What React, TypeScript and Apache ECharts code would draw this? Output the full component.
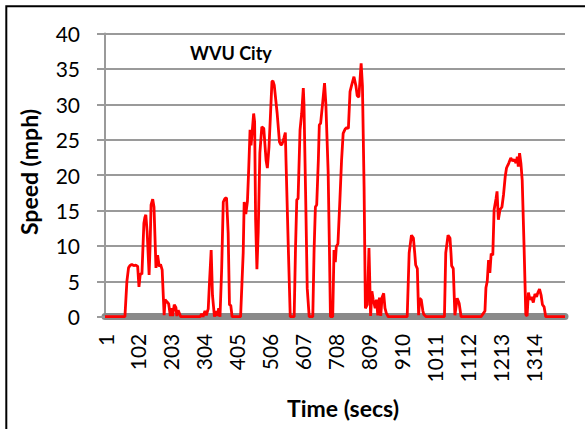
import React, { useEffect, useRef } from "react";
import * as echarts from "echarts";

// Time (seconds index, label = index + 1) and speed (mph) keypoints
const times: number[] = [
  0, 61, 67, 72, 76, 82, 88, 94, 100, 104, 108, 113, 119, 122, 125, 129, 135, 138, 141, 146, 150, 156, 161, 166, 170, 175, 181, 184, 190, 195, 200, 203, 207, 212, 217, 220, 224, 232,
  291, 296, 300, 306, 310, 316, 320, 325, 329, 335, 340, 344, 348, 352, 357, 362, 367, 372, 377, 381, 385, 389,
  415, 423, 426, 431, 436, 440, 444, 447, 451, 455, 458, 461, 465, 469, 474, 480, 486, 493, 497, 502, 506, 511, 514, 518, 527, 534, 538, 541, 545, 548, 552, 554, 561, 567,
  579, 583, 587, 591, 597, 602, 607, 609, 614, 619, 625,
  636, 640, 644, 648, 653, 656, 660, 666, 672, 676, 683, 687, 690,
  697, 701, 705, 708, 713, 719, 724, 729, 735, 740, 745, 750, 755, 762, 768, 772, 777, 784, 788, 793, 797, 803, 808, 813, 817, 821, 827, 831, 835, 840, 844, 848, 853, 857, 861, 867,
  925, 931, 938, 944, 948, 951, 956, 960, 963, 968, 973, 976, 983,
  1039, 1043, 1050, 1056, 1059, 1061, 1066, 1071, 1078, 1084, 1090,
  1151, 1157, 1163, 1166, 1170, 1174, 1178, 1182, 1187, 1191, 1197, 1200, 1204, 1209, 1215, 1220, 1225, 1229, 1236, 1242, 1248, 1253, 1258, 1262, 1265, 1269, 1273, 1277, 1283, 1288, 1292, 1296, 1301, 1306, 1311, 1316, 1321, 1325, 1330, 1335, 1339, 1344, 1349, 1408,
];

const speeds: number[] = [
  0, 0, 5, 6.9, 7.2, 7.4, 7.2, 7.3, 7.1, 4.2, 6.1, 6.0, 13.2, 14.0, 14.4, 12.0, 5.9, 10, 15.8, 16.6, 15.5, 6.9, 8.7, 7.1, 7.4, 6.6, 0.2, 2.4, 2.1, 1.8, 0.1, 1.2, 0.1, 1.7, 1.3, 0.1, 0.9, 0,
  0, 0.4, 0, 0.8, 0.2, 1.1, 5, 9.4, 3.0, 0, 0.8, 0.1, 1.2, 0, 6.6, 16.2, 16.7, 16.8, 11.8, 1.7, 1.6, 0,
  0, 9, 16.2, 14.5, 16.3, 21, 26.4, 24.2, 26.4, 28.7, 27.5, 13.7, 6.7, 12, 23.1, 26.8, 26.6, 22.1, 21, 24, 28, 33.2, 33.3, 32.7, 28.7, 24.7, 24.3, 24.3, 24.8, 25.3, 26, 22.1, 9.9, 0,
  0, 9.4, 16.5, 16.7, 26.4, 28.7, 32.3, 30.1, 17.5, 4.0, 0,
  0, 9.4, 15.5, 15.8, 22.1, 27.1, 27.3, 30.1, 33, 30.1, 20.5, 9.4, 0,
  0, 9.4, 7.7, 9.9, 10.3, 16.5, 22, 25.9, 26.5, 26.7, 26.6, 31.8, 32.7, 33.9, 32.6, 31.2, 31, 35.8, 32.6, 18.4, 1.2, 1.7, 9.7, 0.1, 3.6, 2.4, 1.2, 2.4, 0.2, 2.7, 0.1, 2.7, 3.3, 1.2, 0.5, 0,
  0, 9, 11.5, 11.1, 9, 7.3, 6.8, 0.2, 2.6, 2.4, 0.8, 0.3, 0,
  0, 9, 11.5, 11.1, 9, 7.2, 6.8, 0.2, 2.6, 1.9, 0,
  0, 0.4, 0.8, 4.1, 5.0, 8, 6.2, 8.9, 8.7, 15.1, 16.7, 17.7, 13.7, 15.1, 15.5, 17.3, 19.8, 21, 21.7, 22.4, 22, 22.2, 21.7, 22.6, 21.2, 23.1, 21.7, 19.3, 9.4, 0.3, 0.1, 3.4, 2.4, 2.8, 2.0, 3.2, 2.8, 3.4, 3.9, 3.0, 1.7, 1.4, 0, 0,
];

const yMin = 0;
const yMax = 40;
const yStep = 5;
const xMin = 0;
const xMax = 1408;
const xStep = 101;

const chartTitle = "WVU City";
const xTitle = "Time (secs)";
const yTitle = "Speed (mph)";

const FONT = "Lato, 'Noto Sans', sans-serif";

export default function App() {
  const ref = useRef<HTMLDivElement>(null);
  useEffect(() => {
    if (!ref.current) return;
    const chart = echarts.init(ref.current, undefined, { renderer: "svg" });
    const data = times.map((t, i) => [t, speeds[i]]);
    chart.setOption({
      animation: false,
      backgroundColor: "#ffffff",
      textStyle: { fontFamily: FONT },
      grid: { left: 105, right: 20, top: 33.5, bottom: 112.3, containLabel: false },
      xAxis: {
        type: "value",
        min: xMin,
        max: xMax,
        interval: xStep,
        offset: 4,
        axisLine: { show: true, lineStyle: { color: "#8a8a8a", width: 7 } },
        axisTick: { show: false },
        splitLine: { show: false },
        axisLabel: {
          rotate: 90,
          margin: 13,
          fontSize: 21,
          color: "#000",
          fontFamily: FONT,
          showMaxLabel: false,
          formatter: (v: number) => String(v + 1),
        },
      },
      yAxis: {
        type: "value",
        min: yMin,
        max: yMax,
        interval: yStep,
        axisLine: { show: true, lineStyle: { color: "#9a9a9a", width: 2 } },
        axisTick: { show: true, length: 8, lineStyle: { color: "#9a9a9a", width: 2 } },
        splitLine: { show: true, lineStyle: { color: "#9a9a9a", width: 2 } },
        axisLabel: { margin: 25, fontSize: 21, color: "#000", fontFamily: FONT },
      },
      series: [
        {
          type: "line",
          data,
          symbol: "none",
          lineStyle: { color: "#ff0000", width: 2.8 },
          z: 5,
        },
      ],
      graphic: [
        {
          type: "rect",
          shape: { x: 6.3, y: 6.3, width: 800, height: 800 },
          style: { fill: "none", stroke: "#000", lineWidth: 2 },
          silent: true,
        },
        {
          type: "text",
          x: 190,
          y: 53,
          style: { text: chartTitle, font: `bold 18px ${FONT}`, fill: "#000", textAlign: "left", textVerticalAlign: "middle" },
        },
        {
          type: "text",
          x: 343,
          y: 408,
          style: { text: xTitle, font: `bold 23px ${FONT}`, fill: "#000", textAlign: "center", textVerticalAlign: "middle" },
        },
        {
          type: "text",
          x: 29,
          y: 172,
          rotation: Math.PI / 2,
          style: { text: yTitle, font: `bold 23px ${FONT}`, fill: "#000", textAlign: "center", textVerticalAlign: "middle" },
        },
      ],
    });
    return () => chart.dispose();
  }, []);
  return (
    <div
      ref={ref}
      style={{ position: "fixed", left: 0, top: 0, width: 585, height: 429, background: "#fff" }}
    />
  );
}
